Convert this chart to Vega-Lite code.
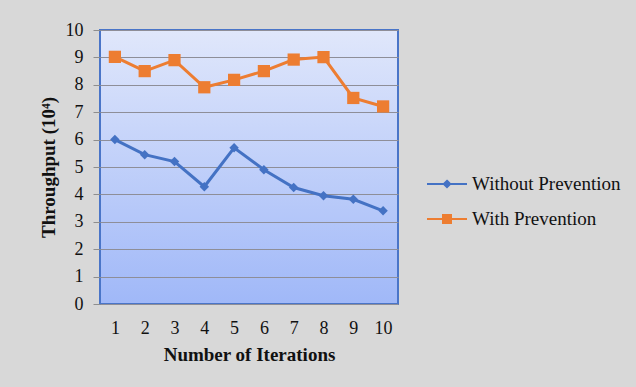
{
  "$schema": "https://vega.github.io/schema/vega-lite/v6.json",
  "width": 298,
  "height": 274,
  "autosize": {"type": "none"},
  "padding": {"left": 100, "top": 30, "right": 238, "bottom": 83},
  "background": "#d8d8d8",
  "data": {
    "values": [
      {"iteration": 1, "series": "Without Prevention", "throughput": 6.0},
      {"iteration": 2, "series": "Without Prevention", "throughput": 5.45},
      {"iteration": 3, "series": "Without Prevention", "throughput": 5.2},
      {"iteration": 4, "series": "Without Prevention", "throughput": 4.28},
      {"iteration": 5, "series": "Without Prevention", "throughput": 5.7},
      {"iteration": 6, "series": "Without Prevention", "throughput": 4.9},
      {"iteration": 7, "series": "Without Prevention", "throughput": 4.25},
      {"iteration": 8, "series": "Without Prevention", "throughput": 3.95},
      {"iteration": 9, "series": "Without Prevention", "throughput": 3.82},
      {"iteration": 10, "series": "Without Prevention", "throughput": 3.4},
      {"iteration": 1, "series": "With Prevention", "throughput": 9.02},
      {"iteration": 2, "series": "With Prevention", "throughput": 8.5},
      {"iteration": 3, "series": "With Prevention", "throughput": 8.9},
      {"iteration": 4, "series": "With Prevention", "throughput": 7.91},
      {"iteration": 5, "series": "With Prevention", "throughput": 8.18},
      {"iteration": 6, "series": "With Prevention", "throughput": 8.5},
      {"iteration": 7, "series": "With Prevention", "throughput": 8.92},
      {"iteration": 8, "series": "With Prevention", "throughput": 9.01},
      {"iteration": 9, "series": "With Prevention", "throughput": 7.52},
      {"iteration": 10, "series": "With Prevention", "throughput": 7.21}
    ]
  },
  "encoding": {
    "x": {
      "field": "iteration",
      "type": "ordinal",
      "scale": {"paddingInner": 0, "paddingOuter": 0},
      "axis": {
        "title": "Number of Iterations",
        "labelAngle": 0,
        "ticks": false,
        "domain": false,
        "grid": false,
        "labelPadding": 15,
        "titlePadding": 8
      }
    },
    "y": {
      "field": "throughput",
      "type": "quantitative",
      "scale": {"domain": [0, 10], "nice": false},
      "axis": {
        "title": "Throughput  (10⁴)",
        "values": [0, 1, 2, 3, 4, 5, 6, 7, 8, 9, 10],
        "domain": false,
        "grid": true,
        "gridColor": "#8e8e98",
        "gridWidth": 1,
        "tickColor": "#8e8e8e",
        "tickSize": 7,
        "labelPadding": 10,
        "titlePadding": 7
      }
    },
    "color": {
      "field": "series",
      "type": "nominal",
      "scale": {
        "domain": ["Without Prevention", "With Prevention"],
        "range": ["#4472c4", "#ed7d31"]
      }
    }
  },
  "layer": [
    {
      "mark": {"type": "line", "strokeWidth": 3},
      "encoding": {
        "color": {
          "field": "series",
          "type": "nominal",
          "legend": {
            "title": null,
            "orient": "none",
            "legendX": 336,
            "legendY": 143,
            "padding": 0,
            "symbolSize": 400,
            "symbolStrokeWidth": 2,
            "symbolType": "M-2,0L2,0M0,-0.3L0.3,0L0,0.3L-0.3,0Z",
            "labelOffset": 14,
            "rowPadding": 14,
            "labelFont": "Liberation Serif",
            "labelFontSize": 19,
            "labelColor": "#111111",
            "labelLimit": 300,
            "encode": {
              "symbols": {
                "update": {
                  "shape": {"signal": "datum.value === 'With Prevention' ? 'M-2,0L2,0M-0.4,-0.4L0.4,-0.4L0.4,0.4L-0.4,0.4Z' : 'M-2,0L2,0M0,-0.32L0.32,0L0,0.32L-0.32,0Z'"},
                  "fill": {"scale": "color", "field": "value"}
                }
              }
            }
          }
        }
      }
    },
    {
      "transform": [{"filter": "datum.series === 'Without Prevention'"}],
      "mark": {"type": "point", "shape": "diamond", "size": 90, "filled": true, "opacity": 1},
      "encoding": {
        "color": {"field": "series", "type": "nominal", "legend": null}
      }
    },
    {
      "transform": [{"filter": "datum.series === 'With Prevention'"}],
      "mark": {"type": "point", "shape": "square", "size": 150, "filled": true, "opacity": 1},
      "encoding": {
        "color": {"field": "series", "type": "nominal", "legend": null}
      }
    }
  ],
  "config": {
    "view": {
      "fill": {
        "gradient": "linear",
        "x1": 0, "y1": 0, "x2": 0, "y2": 1,
        "stops": [
          {"offset": 0, "color": "#e0e7fb"},
          {"offset": 1, "color": "#a0b8f8"}
        ]
      },
      "stroke": "#4a75c8",
      "strokeWidth": 2
    },
    "axis": {
      "labelFont": "Liberation Serif",
      "labelFontSize": 18,
      "labelColor": "#111111",
      "titleFont": "Liberation Serif",
      "titleFontSize": 19,
      "titleFontWeight": "bold",
      "titleColor": "#111111"
    }
  }
}
